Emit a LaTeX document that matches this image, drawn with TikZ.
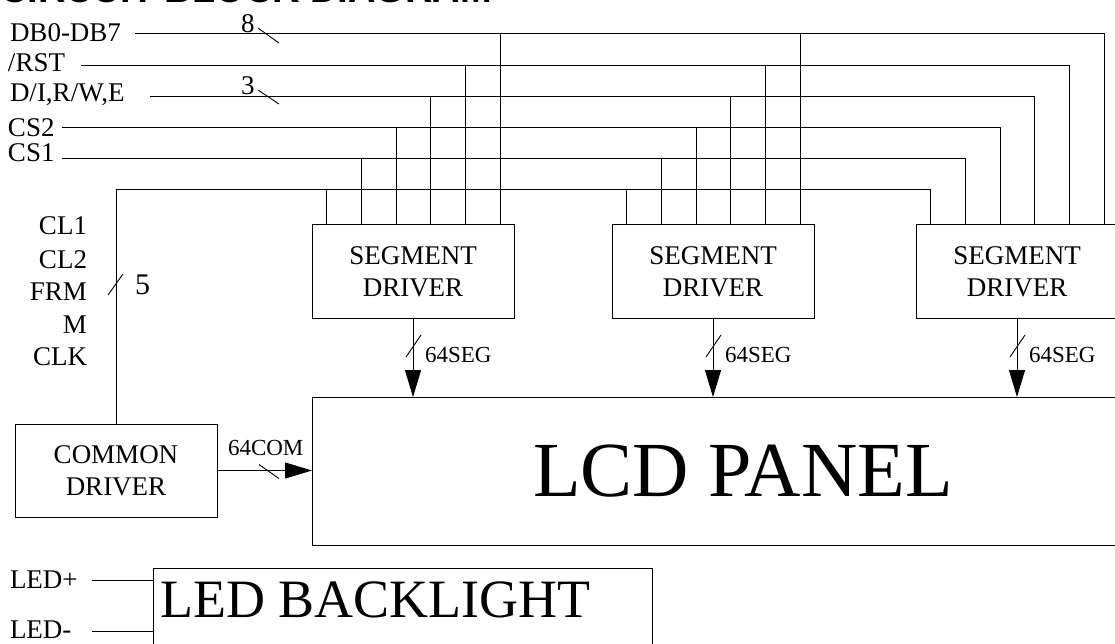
\documentclass[tikz,border=0pt]{standalone}
\usepackage{fontspec}
\setmainfont{Liberation Serif}
\newfontfamily\titlefont{Liberation Sans}
\usetikzlibrary{arrows.meta,calc}
\begin{document}
\begin{tikzpicture}[x=1pt,y=-1pt,
  wire/.style={draw=black,line width=1pt},
  tick/.style={draw=black,line width=0.9pt},
  box/.style={draw=black,line width=1pt,rectangle,inner sep=0pt,outer sep=0pt},
  txt/.style={inner sep=0pt,outer sep=0pt,font=\fontsize{27}{32}\selectfont},
  small/.style={inner sep=0pt,outer sep=0pt,font=\fontsize{23}{27}\selectfont},
  segbox/.style={box,minimum width=202pt,minimum height=93pt,align=center,font=\fontsize{27}{32}\selectfont},
  arr/.style={wire,-{Triangle[length=27pt,width=16pt]}}]
\useasboundingbox (0,0) rectangle (1115,644);
\clip (0,0) rectangle (1115,644);

% title (cut off at the top edge)
\node[anchor=base west,inner sep=0pt,font=\titlefont\bfseries\fontsize{38}{40}\selectfont] (title) at (0,3) {CIRCUIT BLOCK DIAGRAM};

% left signal labels
\node[txt,anchor=base west] (ldb) at (10,42) {DB0-DB7};
\node[txt,anchor=base west] (lrst) at (8,72) {/RST};
\node[txt,anchor=base west] (ldi) at (10,102) {D/I,R/W,E};
\node[txt,anchor=base west] (lcs2) at (8,137) {CS2};
\node[txt,anchor=base west] (lcs1) at (8,162) {CS1};

\node[txt,anchor=base east] (lcl1) at (87,235) {CL1};
\node[txt,anchor=base east] (lcl2) at (87,268) {CL2};
\node[txt,anchor=base east] (lfrm) at (87,300) {FRM};
\node[txt,anchor=base east] (lm) at (87,333) {M};
\node[txt,anchor=base east] (lclk) at (87,365) {CLK};

% wire start points
\coordinate (wdb) at (135,34);
\coordinate (wrst) at (81,66);
\coordinate (wdi) at (150,97);
\coordinate (wcs2) at (62,128);
\coordinate (wcs1) at (62,159);
\coordinate (w5) at (116,190);

% blocks
\node[segbox] (seg1) at (413,271.5) {SEGMENT\\DRIVER};
\node[segbox] (seg2) at (713,271.5) {SEGMENT\\DRIVER};
\node[segbox] (seg3) at (1017,271.5) {SEGMENT\\DRIVER};
\node[segbox] (com) at (116,470.5) {COMMON\\DRIVER};
\node[box,minimum width=862pt,minimum height=148pt,font=\fontsize{78}{80}\selectfont] (lcd) at (743,471) {LCD PANEL};
\node[box,anchor=north west,minimum width=499pt,minimum height=120pt] (led) at (153,568) {};
\node[anchor=base west,inner sep=0pt,font=\fontsize{54}{56}\selectfont] (ledtxt) at (160,617) {LED BACKLIGHT};

% drops into segment drivers
\foreach \s in {seg1,seg2,seg3}{
  \foreach \k/\off/\w in {0/14/w5,1/49/wcs1,2/84/wcs2,3/118/wdi,4/153/wrst,5/188/wdb}{
    \coordinate (\s-\k) at ([xshift=\off pt]\s.north west);
    \draw[wire] (\s-\k) -- (\s-\k |- \w);
  }
}

% bus wires
\draw[wire] (wdb) -| (seg3-5);
\draw[wire] (wrst) -| (seg3-4);
\draw[wire] (wdi) -| (seg3-3);
\draw[wire] (wcs2) -| (seg3-2);
\draw[wire] (wcs1) -| (seg3-1);
\draw[wire] (com.north) -- (w5) -| (seg3-0);

% bus width marks
\node[txt,anchor=base west] (n8) at (241,33) {8};
\draw[tick] (258,28) -- (279,43);
\node[txt,anchor=base west] (n3) at (241,95) {3};
\draw[tick] (258,90) -- (279,104);
\node[anchor=base west,inner sep=0pt,font=\fontsize{30}{32}\selectfont] (n5) at (135,294) {5};
\draw[tick] (108,295) -- (123,274);

% segment outputs
\foreach \s in {seg1,seg2,seg3}{
  \draw[arr] (\s.south) -- (\s.south |- lcd.north);
  \draw[tick] ($(\s.south)+(-7,39)$) -- ($(\s.south)+(8,17)$);
  \node[small,anchor=base west] (\s-lab) at ($(\s.south)+(12,44)$) {64SEG};
}

% common output
\draw[arr] (com.east) -- (com.east -| lcd.west);
\draw[tick] ($(com.east)+(42,-6)$) -- ($(com.east)+(62,8)$);
\node[small,anchor=base west] (comlab) at ($(com.east)+(11,-15.5)$) {64COM};

% backlight
\node[txt,anchor=base west] (lledp) at (10,588) {LED+};
\node[txt,anchor=base west] (lledm) at (10,638) {LED-};
\coordinate (wledp) at (92,580);
\coordinate (wledm) at (92,631);
\draw[wire] (wledp) -- (wledp -| led.west);
\draw[wire] (wledm) -- (wledm -| led.west);
\end{tikzpicture}
\end{document}
